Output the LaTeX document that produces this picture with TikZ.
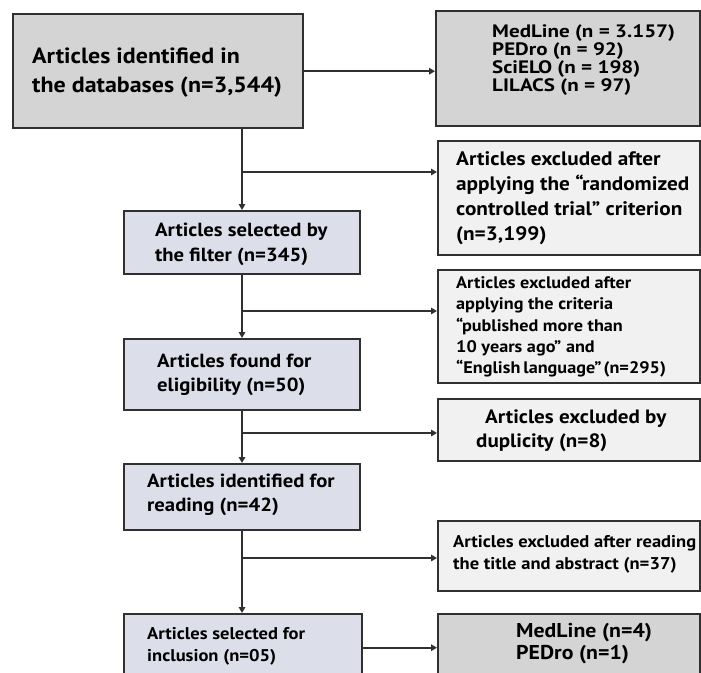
\documentclass[tikz,border=0pt]{standalone}
\usepackage{fontspec}
\setmainfont{PT Sans}[FakeStretch=1.09]
\newfontfamily\widefont{PT Sans}[FakeStretch=1.17]
\usetikzlibrary{arrows.meta}
\definecolor{bord}{HTML}{303030}
\definecolor{graybox}{HTML}{D4D4D4}
\definecolor{bluebox}{HTML}{DCDFEA}
\definecolor{lightbox}{HTML}{F1F1F1}
\tikzset{
  box/.style={draw=bord, line width=2.4pt, anchor=north west, inner sep=0pt},
  txt/.style={anchor=west, align=left, inner sep=0pt, text=black},
  arr/.style={draw=bord, line width=2.2pt, -{Triangle[length=6pt,width=6.5pt]}}
}
\newcommand{\fs}[2]{\fontsize{#1}{#2}\selectfont\bfseries}
\begin{document}
\begin{tikzpicture}[x=1pt,y=-1pt]
\useasboundingbox (0,0) rectangle (701,672);
% boxes
\node[box, fill=graybox, minimum width=290pt, minimum height=114pt] (b1) at (12,13) {};
\node[box, fill=graybox, minimum width=264pt, minimum height=115pt] (b2) at (435,10) {};
\node[box, fill=lightbox, minimum width=262pt, minimum height=114pt] (b3) at (437,140) {};
\node[box, fill=lightbox, minimum width=262pt, minimum height=113pt] (b4) at (437,269) {};
\node[box, fill=lightbox, minimum width=262pt, minimum height=62pt] (b5) at (437,398) {};
\node[box, fill=lightbox, minimum width=262pt, minimum height=70pt] (b6) at (437,520) {};
\node[box, fill=graybox, minimum width=262pt, minimum height=70pt] (b7) at (437,613) {};
\node[box, fill=bluebox, minimum width=236pt, minimum height=63pt] (bA) at (123,210) {};
\node[box, fill=bluebox, minimum width=236pt, minimum height=71pt] (bB) at (123,338) {};
\node[box, fill=bluebox, minimum width=236pt, minimum height=66pt] (bC) at (123,463) {};
\node[box, fill=bluebox, minimum width=238pt, minimum height=67pt] (bD) at (123,613) {};
% texts
\node[txt, font=\fs{22}{29}] (t1) at (32,73) {Articles identified in\\the databases (n=3,544)};
\node[txt, font=\widefont\fs{18}{16.8}] (t2) at (492,60) {MedLine (n = 3.157)\\PEDro (n = 92)\\SciELO (n = 198)\\LILACS (n = 97)};
\node[txt, font=\fs{19.5}{25}] (t3) at (456,198) {Articles excluded after\\applying the “randomized\\controlled trial” criterion\\(n=3,199)};
\node[txt, font=\fs{16.7}{21.3}] (t4) at (456,327) {Articles excluded after\\applying the criteria\\“published more than\\10 years ago” and\\“English\hspace{3pt}language”\hspace{2pt}(n=295)};
\node[txt, font=\fs{19.3}{24}] (t5) at (476,431) {\hspace*{9pt}Articles excluded by\\duplicity (n=8)};
\node[txt, font=\fs{17}{22}] (t6) at (453,554) {Articles excluded after reading\\the title and abstract (n=37)};
\node[txt, font=\fs{20}{22}] (t7) at (516,644) {MedLine (n=4)\\PEDro (n=1)};
\node[txt, font=\fs{19}{25}] (tA) at (155,244) {Articles selected by\\the filter (n=345)};
\node[txt, font=\fs{19}{24}] (tB) at (157,375) {Articles found for\\eligibility (n=50)};
\node[txt, font=\fs{19}{24}] (tC) at (147,495) {Articles identified for\\reading (n=42)};
\node[txt, font=\fs{17}{22}] (tD) at (147,646) {Articles selected for\\inclusion (n=05)};
% connectors
\coordinate (sp) at (242,0);
\coordinate (j1) at (242,172);
\coordinate (j2) at (242,311);
\coordinate (j3) at (242,433);
\coordinate (j4) at (242,558);
\draw[arr] (b1.east) -- (b1.east -| b2.west);
\draw[arr] (b1.south -| sp) -- (bA.north -| sp);
\draw[arr] (j1) -- (j1 -| b3.west);
\draw[arr] (bA.south -| sp) -- (bB.north -| sp);
\draw[arr] (j2) -- (j2 -| b4.west);
\draw[arr] (bB.south -| sp) -- (bC.north -| sp);
\draw[arr] (j3) -- (j3 -| b5.west);
\draw[arr] (bC.south -| sp) -- (bD.north -| sp);
\draw[arr] (j4) -- (j4 -| b6.west);
\draw[arr] (bD.east) -- (bD.east -| b7.west);
\end{tikzpicture}
\end{document}
